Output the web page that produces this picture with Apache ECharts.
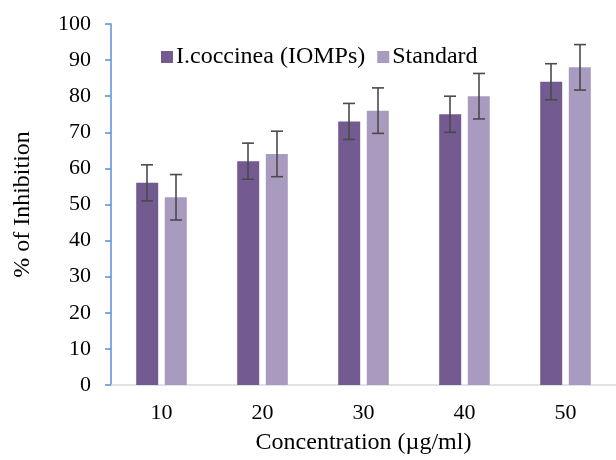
<!DOCTYPE html>
<html>
<head>
<meta charset="UTF-8">
<title>Inhibition</title>
<script src="https://cdn.jsdelivr.net/npm/echarts@6/dist/echarts.min.js"></script>
</head>
<body style="margin:0">
<div id="main" style="width:616px;height:460px;"></div>
<script type="text/javascript">
var categories = ['10', '20', '30', '40', '50'];
var iocValues = [56, 62, 73, 75, 84];
var iocErrors = [5, 5, 5, 5, 5];
var stdValues = [52, 64, 76, 80, 88];
var stdErrors = [6.3, 6.3, 6.3, 6.3, 6.3];

var font = 'Liberation Serif';

// low/high pairs for the error bars
function errData(vals, errs) {
  var out = [];
  for (var i = 0; i < vals.length; i++) {
    out.push([i, vals[i] - errs[i], vals[i] + errs[i]]);
  }
  return out;
}

function errSeries(data, offset) {
  return {
    type: 'custom',
    silent: true,
    z: 10,
    data: data,
    renderItem: function (params, api) {
      var lo = api.coord([api.value(0), api.value(1)]);
      var hi = api.coord([api.value(0), api.value(2)]);
      var x = lo[0] + offset;
      var w = 6;
      var st = { stroke: '#4a4a4a', lineWidth: 1.6 };
      return {
        type: 'group',
        children: [
          { type: 'line', shape: { x1: x, y1: lo[1], x2: x, y2: hi[1] }, style: st },
          { type: 'line', shape: { x1: x - w, y1: lo[1], x2: x + w, y2: lo[1] }, style: st },
          { type: 'line', shape: { x1: x - w, y1: hi[1], x2: x + w, y2: hi[1] }, style: st }
        ]
      };
    }
  };
}

var myChart = echarts.init(document.getElementById('main'));
var option = {
  animation: false,
  grid: { left: 111, right: 0, top: 24, bottom: 71 },
  legend: {
    left: 156,
    top: 40,
    itemWidth: 12,
    itemHeight: 12,
    itemGap: 12,
    icon: 'rect',
    textStyle: { fontFamily: font, fontSize: 24, color: '#000', padding: [0, 0, 0, -2] },
    data: ['I.coccinea (IOMPs)', 'Standard']
  },
  xAxis: {
    type: 'category',
    data: categories,
    axisLine: { lineStyle: { color: '#d9d9d9', width: 1.5 } },
    axisTick: { show: false },
    axisLabel: { fontFamily: font, fontSize: 22, color: '#000', margin: 17 },
    name: 'Concentration (\u00b5g/ml)',
    nameLocation: 'middle',
    nameGap: 46,
    nameTextStyle: { fontFamily: font, fontSize: 24, color: '#000' }
  },
  yAxis: {
    type: 'value',
    min: 0,
    max: 100,
    interval: 10,
    axisLine: { show: true, lineStyle: { color: '#5b8fd4', width: 1.5 } },
    axisTick: { show: true, inside: false, length: 6, lineStyle: { color: '#5b8fd4', width: 1.5 } },
    splitLine: { show: false },
    axisLabel: { fontFamily: font, fontSize: 22, color: '#000', margin: 20 },
    name: '% of Inhibition',
    nameLocation: 'middle',
    nameGap: 76,
    nameTextStyle: { fontFamily: font, fontSize: 24, color: '#000' }
  },
  series: [
    {
      name: 'I.coccinea (IOMPs)',
      type: 'bar',
      data: iocValues,
      barWidth: 22,
      barGap: '30%',
      itemStyle: { color: '#735a90' }
    },
    {
      name: 'Standard',
      type: 'bar',
      data: stdValues,
      barWidth: 22,
      itemStyle: { color: '#a99bbf' }
    },
    errSeries(errData(iocValues, iocErrors), -14.5),
    errSeries(errData(stdValues, stdErrors), 14.5)
  ]
};
myChart.setOption(option);
</script>
</body>
</html>
